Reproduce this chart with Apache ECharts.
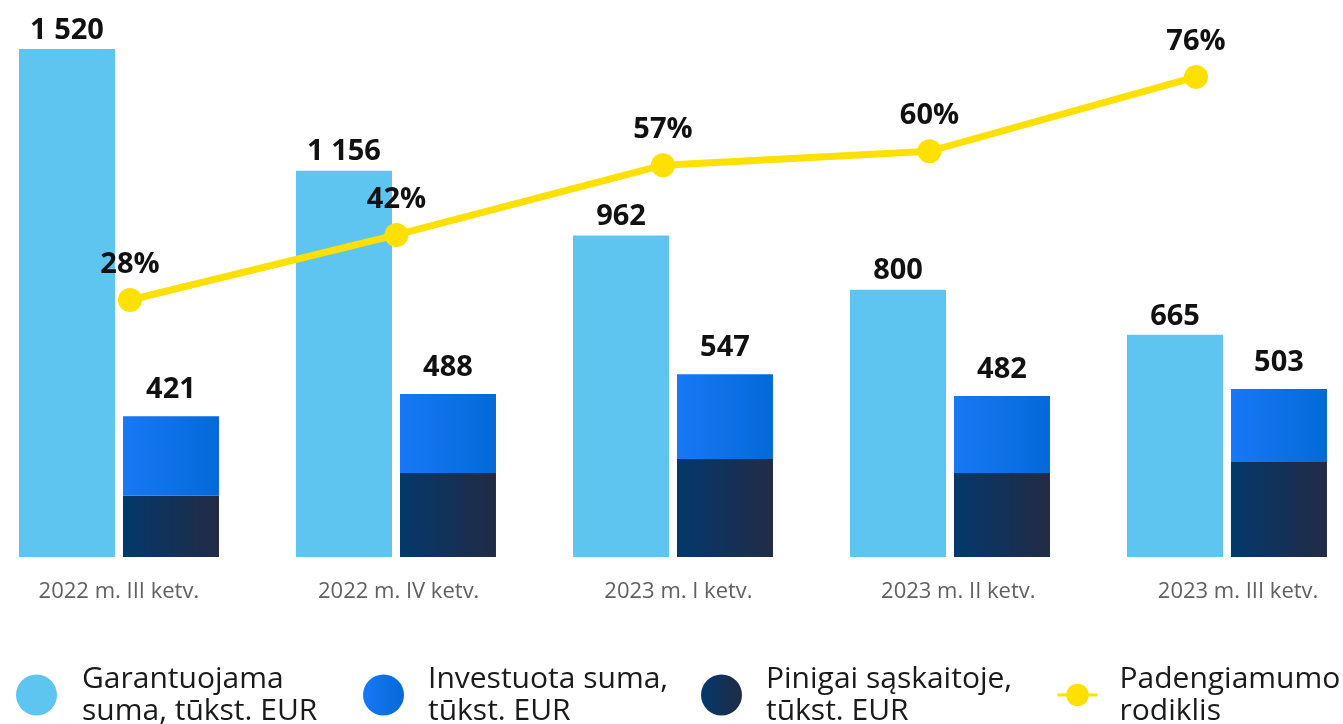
<!DOCTYPE html>
<html>
<head>
<meta charset="utf-8">
<script src="https://cdn.jsdelivr.net/npm/echarts@6/dist/echarts.min.js"></script>
<style>
	html, body { margin: 0; padding: 0; background: #fff; }
	#chart { width: 1343px; height: 724px; }
</style>
</head>
<body>
<div id="chart"></div>
<script>
var categories = ['2022 m. III ketv.', '2022 m. IV ketv.', '2023 m. I ketv.', '2023 m. II ketv.', '2023 m. III ketv.'];
var guaranteed = [1520, 1156, 962, 800, 665];
var invested = [421, 488, 547, 482, 503];
var cash = [183, 251, 293, 251, 284];
var coverage = [28, 42, 57, 60, 76];

var names = {
	guaranteed: 'Garantuojama\nsuma, tūkst. EUR',
	invested: 'Investuota suma,\ntūkst. EUR',
	cash: 'Pinigai sąskaitoje,\ntūkst. EUR',
	coverage: 'Padengiamumo\nrodiklis'
};

var FONT = "'Open Sans', sans-serif";

function grad( a, b ) {
	return new echarts.graphic.LinearGradient( 0, 0, 1, 0, [
		{ offset: 0, color: a },
		{ offset: 1, color: b }
	] );
}

// top segment of the stack = invested minus the cash part
var investedTop = invested.map( function ( v, i ) { return v - cash[i]; } );

function legend( name, left, icon, w, h, pad ) {
	var item = { name: name };
	if ( icon ) item.icon = icon;
	return {
		data: [ item ],
		left: left,
		top: 658,
		itemWidth: w,
		itemHeight: h,
		selectedMode: false,
		lineStyle: { width: 3 },
		textStyle: {
			fontFamily: FONT,
			fontSize: 30,
			lineHeight: 32,
			color: '#1a1a1a',
			padding: [ 0, 0, 0, pad ]
		}
	};
}

var chart = echarts.init( document.getElementById( 'chart' ), null, { renderer: 'canvas' } );

var option = {
	animation: false,
	backgroundColor: '#ffffff',
	grid: [
		{ left: -19.5, width: 1385, top: 49, height: 508, outerBoundsMode: 'none', containLabel: false },
		{ left: -3.25, width: 1332.5, top: 49, height: 508, outerBoundsMode: 'none', containLabel: false },
		// category labels sit slightly off the bar groups
		{ left: -21, width: 1399, top: 49, height: 508, outerBoundsMode: 'none', containLabel: false }
	],
	xAxis: [
		{
			type: 'category', gridIndex: 0, data: categories, show: false
		},
		{
			type: 'category', gridIndex: 1, data: categories, show: false
		},
		{
			type: 'category', gridIndex: 2, data: categories,
			axisLine: { show: false }, axisTick: { show: false }, splitLine: { show: false },
			axisLabel: { margin: 24, fontFamily: FONT, fontSize: 22, color: '#606060' }
		}
	],
	yAxis: [
		{ type: 'value', gridIndex: 0, min: 0, max: 1520, show: false, splitLine: { show: false } },
		{ type: 'value', gridIndex: 1, min: -27.3, max: 82, show: false, splitLine: { show: false } },
		{ type: 'value', gridIndex: 2, min: 0, max: 1, show: false, splitLine: { show: false } }
	],
	legend: [
		legend( names.guaranteed, 11, 'circle', 41, 41, 20 ),
		legend( names.invested, 358, 'circle', 41, 41, 19 ),
		legend( names.cash, 696, 'circle', 41, 41, 19 ),
		legend( names.coverage, 1051, null, 40, 28, 17 )
	],
	series: [
		{
			name: names.guaranteed,
			type: 'bar',
			xAxisIndex: 0, yAxisIndex: 0,
			data: guaranteed,
			barWidth: 96,
			barGap: '8.3%',
			itemStyle: { color: '#5dc5f0' },
			label: {
				show: true, position: 'top', distance: 4,
				fontFamily: FONT, fontSize: 29, fontWeight: 'bold', color: '#111',
				formatter: function ( p ) { return String( p.value ).replace( /\B(?=(\d{3})+(?!\d))/g, ' ' ); }
			}
		},
		{
			name: names.cash,
			type: 'bar',
			stack: 'inv',
			xAxisIndex: 0, yAxisIndex: 0,
			data: cash,
			barWidth: 96,
			itemStyle: { color: grad( '#03386c', '#222b45' ) }
		},
		{
			name: names.invested,
			type: 'bar',
			stack: 'inv',
			xAxisIndex: 0, yAxisIndex: 0,
			data: investedTop,
			barWidth: 96,
			itemStyle: { color: grad( '#1878f6', '#036ad8' ) },
			label: {
				show: true, position: 'top', distance: 12,
				fontFamily: FONT, fontSize: 29, fontWeight: 'bold', color: '#111',
				formatter: function ( p ) { return invested[p.dataIndex]; }
			}
		},
		{
			name: names.coverage,
			type: 'line',
			xAxisIndex: 1, yAxisIndex: 1,
			data: coverage,
			symbol: 'circle',
			symbolSize: 24,
			z: 5,
			lineStyle: { color: '#ffe000', width: 7 },
			itemStyle: { color: '#ffe000' },
			label: {
				show: true, position: 'top', distance: 9,
				fontFamily: FONT, fontSize: 29, fontWeight: 'bold', color: '#111',
				formatter: '{c}%'
			}
		}
	]
};

chart.setOption( option );
</script>
</body>
</html>
